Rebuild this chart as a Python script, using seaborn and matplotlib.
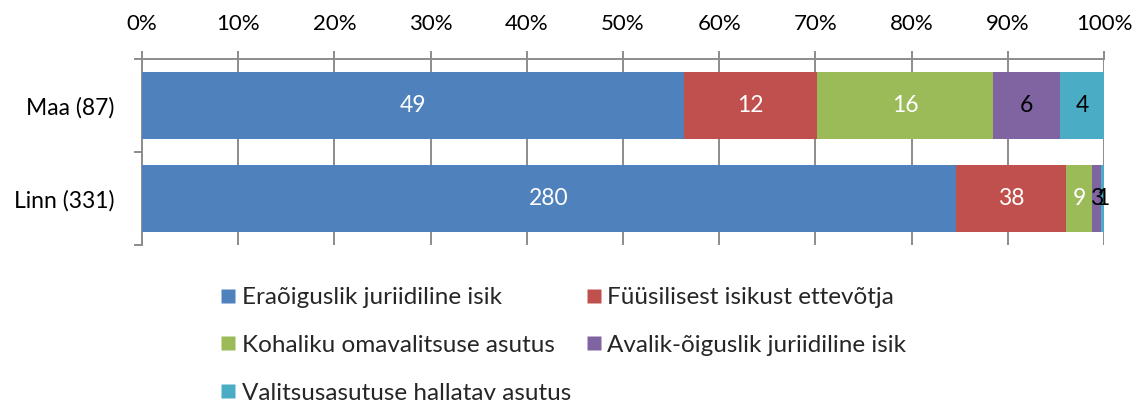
import matplotlib
matplotlib.use("Agg")
import matplotlib.pyplot as plt
from matplotlib.lines import Line2D
import numpy as np
import pandas as pd
import seaborn as sns

# Respondents by area and by organisation type
areas = ["Maa (87)", "Linn (331)"]
series = [
    "Eraõiguslik juriidiline isik",
    "Füüsilisest isikust ettevõtja",
    "Kohaliku omavalitsuse asutus",
    "Avalik-õiguslik juriidiline isik",
    "Valitsusasutuse hallatav asutus",
]
maa_counts = [49, 12, 16, 6, 4]
linn_counts = [280, 38, 9, 3, 1]

colors = ["#4F81BD", "#C0504D", "#9BBB59", "#8064A2", "#4BACC6"]
label_colors = ["white", "white", "white", "black", "black"]
ticks_pct = [0, 10, 20, 30, 40, 50, 60, 70, 80, 90, 100]

sns.set_theme(style="white")
plt.rcParams["font.family"] = ["Lato", "DejaVu Sans"]
FS = 16
FS_LEG = 17.5
GRID = "#8C8C8C"

counts = np.array([maa_counts, linn_counts], dtype=float)
totals = counts.sum(axis=1, keepdims=True)
pct = counts / totals * 100
cum = np.cumsum(pct, axis=1)

fig = plt.figure(figsize=(11.36, 4.05), dpi=100)
ax = fig.add_axes([142 / 1136, 1 - 245 / 405, (1104 - 142) / 1136, (245 - 59) / 405])

# Stacked bars: draw cumulative totals from the last series back to the first
for j in reversed(range(len(series))):
    df = pd.DataFrame({"area": areas, "value": cum[:, j]})
    sns.barplot(data=df, x="value", y="area", order=areas, color=colors[j],
                orient="h", width=0.71, saturation=1, ax=ax, zorder=3,
                linewidth=0, edgecolor="none")

# Value labels in the middle of each segment
for i in range(len(areas)):
    for j in range(len(series)):
        left = cum[i, j] - pct[i, j]
        ax.text(left + pct[i, j] / 2, i, f"{int(counts[i, j])}",
                ha="center", va="center", fontsize=FS + 0.5,
                color=label_colors[j], zorder=5)

ax.set_xlim(0, 100)
ax.set_ylim(1.5, -0.5)
ax.set_xticks(ticks_pct)
ax.set_xticklabels([f"{t}%" for t in ticks_pct])
ax.xaxis.tick_top()
ax.set_xlabel("")
ax.set_ylabel("")

ax.grid(axis="x", color=GRID, linewidth=1.4, zorder=0)
ax.grid(axis="y", visible=False)

for side in ["right", "bottom"]:
    ax.spines[side].set_visible(False)
for side in ["top", "left"]:
    ax.spines[side].set_visible(True)
    ax.spines[side].set_color(GRID)
    ax.spines[side].set_linewidth(1.4)

ax.tick_params(axis="x", which="major", top=True, bottom=False, length=6,
               width=1.4, color=GRID, direction="out", pad=12,
               labelsize=FS, labelcolor="black")
ax.tick_params(axis="y", which="major", left=False, length=0, pad=20,
               labelsize=FS + 0.5, labelcolor="black")
ax.set_yticks([-0.5, 0.5, 1.5], minor=True)
ax.tick_params(axis="y", which="minor", left=True, length=6, width=1.4,
               color=GRID, direction="out")

# Legend: two columns filled row by row
handles = [Line2D([], [], marker="s", linestyle="none", markersize=9.5,
                  markerfacecolor=c, markeredgecolor="none") for c in colors]
order = [0, 2, 4, 1, 3]
leg = fig.legend([handles[k] for k in order], [series[k] for k in order],
                 ncol=2, loc="upper left", bbox_to_anchor=(221 / 1136, 1 - 287 / 405),
                 frameon=False, fontsize=FS_LEG, handlelength=0.6, handletextpad=0.25,
                 labelspacing=1.1, columnspacing=0.65, borderpad=0, borderaxespad=0)

fig.savefig("out.png", dpi=100)
